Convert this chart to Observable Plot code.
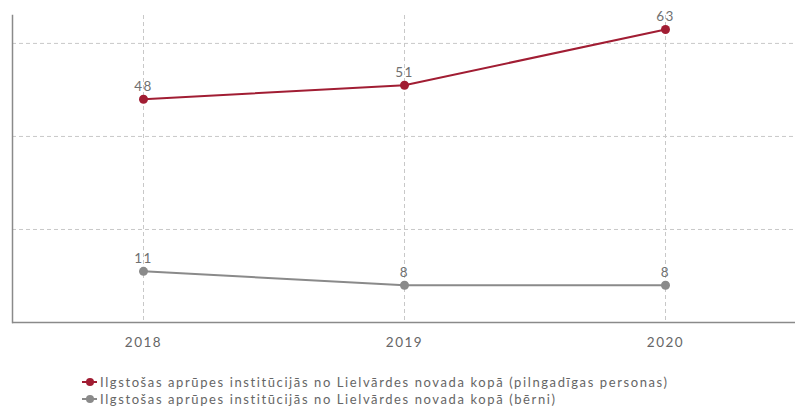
<!DOCTYPE html>
<html><head><meta charset="utf-8">
<script src="https://cdn.jsdelivr.net/npm/d3@7"></script>
<script src="https://cdn.jsdelivr.net/npm/@observablehq/plot@0.6"></script>
<style>
body{margin:0;background:#fff;font-family:Lato,"Open Sans",sans-serif;}
#legend{padding-left:82px;margin-top:11px;font-size:13px;letter-spacing:1.6px;color:#666;}
.li{display:flex;align-items:center;height:17px;}
.sym{position:relative;width:15px;height:10px;margin-right:3px;}
.sym .ln{position:absolute;left:0;top:4px;width:15px;height:2px;}
.sym .dt{position:absolute;left:3.5px;top:1px;width:8px;height:8px;border-radius:50%;}
svg text{letter-spacing:1.5px;}
</style></head>
<body>
<div id="chart"></div>
<div id="legend"></div>
<script>
const years = ["2018", "2019", "2020"];
const adults = [48, 51, 63];
const children = [11, 8, 8];
const seriesNames = [
  "Ilgstošas aprūpes institūcijās no Lielvārdes novada kopā (pilngadīgas personas)",
  "Ilgstošas aprūpes institūcijās no Lielvārdes novada kopā (bērni)"
];
const colors = ["#a11d33", "#8a8a8a"];
const yTicks = [20, 40, 60];

const data = [];
years.forEach((y, i) => data.push({year: y, value: adults[i], s: seriesNames[0]}));
years.forEach((y, i) => data.push({year: y, value: children[i], s: seriesNames[1]}));

const chart = Plot.plot({
  width: 795, height: 362,
  marginLeft: 12, marginRight: 0, marginTop: 15, marginBottom: 40,
  style: {fontFamily: "Lato, 'Open Sans', sans-serif", fontSize: "13px", color: "#666"},
  x: {type: "point", domain: years, padding: 0.5, label: null},
  y: {domain: [0, 66], axis: null},
  color: {domain: seriesNames, range: colors},
  marks: [
    Plot.ruleY(yTicks, {stroke: "#c8c8c8", strokeDasharray: "4,3", strokeWidth: 1}),
    Plot.ruleX(years, {stroke: "#c8c8c8", strokeDasharray: "4,3", strokeWidth: 1}),
    Plot.axisX({tickSize: 0, tickPadding: 15, fill: "#666", fontSize: 13.5}),
    Plot.frame({anchor: "left", stroke: "#8a8a8a", strokeWidth: 1.5}),
    Plot.ruleY([0], {stroke: "#8a8a8a", strokeWidth: 1.5}),
    Plot.line(data, {x: "year", y: "value", z: "s", stroke: "s", strokeWidth: 2}),
    Plot.dot(data, {x: "year", y: "value", fill: "s", r: 4.5}),
    Plot.text(data, {x: "year", y: "value", text: d => String(d.value), dy: -13, fill: "#707070", fontSize: 13.5})
  ]
});
document.getElementById("chart").appendChild(chart);

const leg = document.getElementById("legend");
seriesNames.forEach((n, i) => {
  const d = document.createElement("div");
  d.className = "li";
  d.innerHTML = `<span class="sym"><span class="ln" style="background:${colors[i]}"></span><span class="dt" style="background:${colors[i]}"></span></span><span>${n}</span>`;
  leg.appendChild(d);
});
</script>
</body></html>
